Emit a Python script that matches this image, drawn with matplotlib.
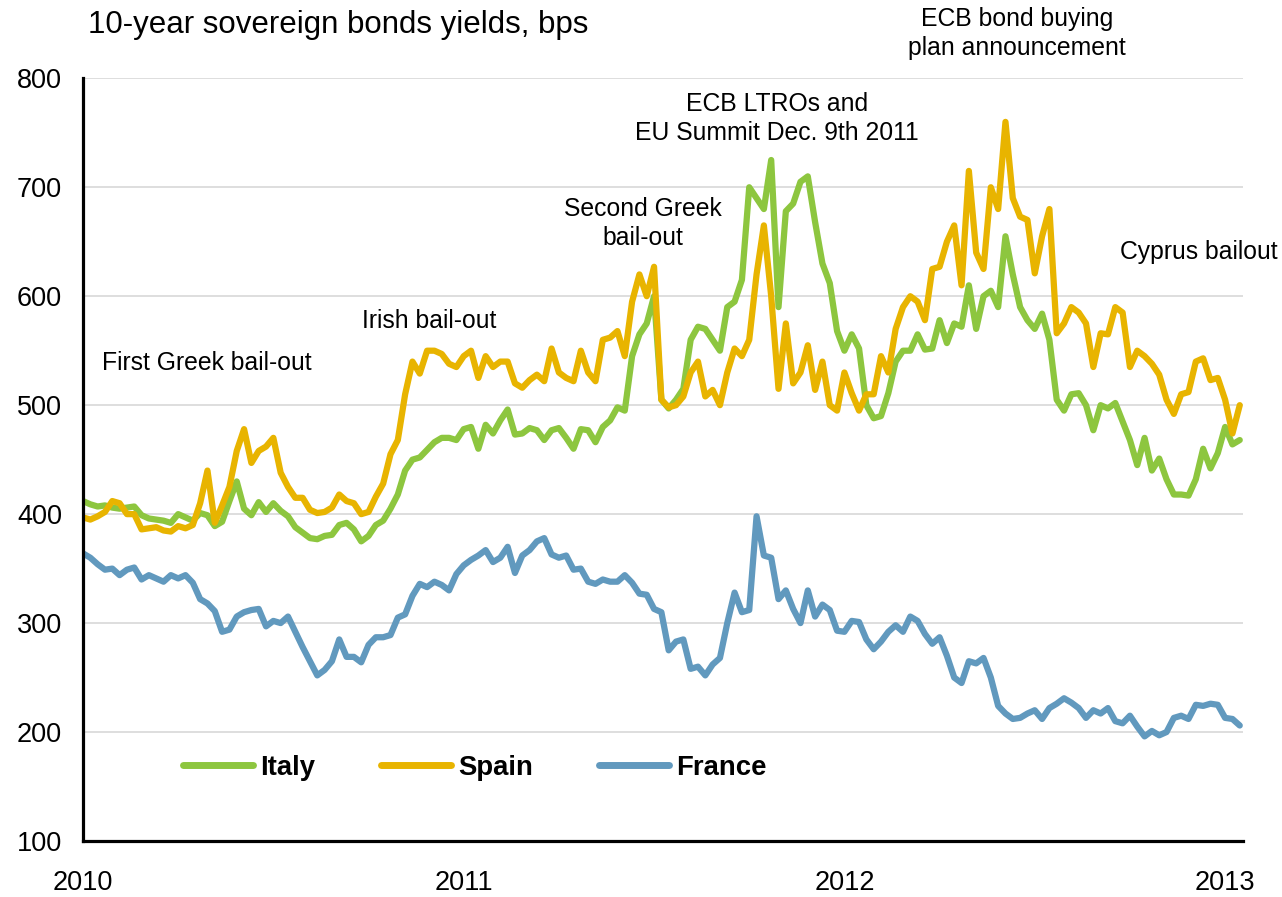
import numpy as np
import matplotlib
matplotlib.use("Agg")
import matplotlib.pyplot as plt

plt.rcParams['font.family'] = ['Liberation Sans', 'DejaVu Sans']

# weekly 10-year yields, bps, starting first week of 2010
italy = [412, 409, 407, 408, 406, 405, 406, 407, 399, 396,
         395, 394, 392, 400, 397, 394, 401, 399, 389, 393,
         412, 430, 405, 399, 411, 402, 410, 403, 398, 388,
         383, 378, 377, 380, 381, 390, 392, 386, 375, 380,
         390, 394, 405, 418, 440, 450, 452, 459, 466, 470,
         470, 468, 478, 480, 460, 482, 474, 486, 496, 473,
         474, 479, 477, 468, 477, 479, 470, 460, 478, 477,
         466, 480, 486, 498, 495, 545, 565, 575, 600, 505,
         497, 505, 515, 560, 572, 570, 560, 550, 590, 595,
         615, 700, 690, 680, 725, 590, 678, 685, 705, 710,
         668, 630, 612, 568, 550, 565, 552, 500, 488, 490,
         511, 540, 550, 550, 565, 551, 552, 578, 557, 575,
         572, 610, 570, 600, 605, 590, 655, 620, 590, 578,
         570, 584, 560, 505, 495, 510, 511, 500, 477, 500,
         497, 502, 485, 468, 445, 470, 440, 451, 432, 418,
         418, 417, 432, 460, 442, 456, 480, 464, 468]

spain = [397, 395, 398, 402, 412, 410, 400, 400, 386, 387,
         388, 385, 384, 389, 387, 390, 410, 440, 392, 408,
         425, 458, 478, 447, 458, 462, 470, 438, 425, 415,
         415, 404, 401, 402, 406, 418, 412, 410, 400, 402,
         416, 428, 455, 468, 510, 540, 529, 550, 550, 547,
         538, 535, 545, 550, 525, 545, 535, 540, 540, 520,
         516, 523, 528, 522, 552, 530, 525, 522, 550, 530,
         522, 560, 562, 568, 545, 595, 620, 600, 627, 505,
         498, 500, 508, 530, 540, 508, 514, 500, 530, 552,
         545, 560, 620, 665, 600, 515, 575, 520, 530, 555,
         514, 540, 500, 495, 530, 511, 495, 510, 510, 545,
         530, 570, 590, 600, 595, 578, 625, 627, 650, 665,
         610, 715, 640, 625, 700, 680, 760, 690, 673, 670,
         621, 655, 680, 566, 575, 590, 585, 575, 535, 566,
         565, 590, 585, 535, 550, 545, 538, 528, 505, 492,
         510, 512, 540, 543, 523, 525, 505, 474, 500]

france = [364, 360, 354, 349, 350, 344, 349, 351, 340, 344,
          341, 338, 344, 341, 344, 337, 322, 318, 311, 292,
          294, 306, 310, 312, 313, 297, 302, 300, 306, 292,
          278, 265, 252, 257, 265, 285, 269, 269, 264, 280,
          287, 287, 289, 305, 308, 325, 336, 333, 338, 335,
          330, 345, 353, 358, 362, 367, 356, 360, 370, 346,
          362, 367, 375, 378, 363, 360, 362, 349, 350, 338,
          336, 340, 338, 338, 344, 337, 327, 326, 313, 310,
          275, 283, 285, 258, 260, 252, 262, 268, 300, 328,
          310, 312, 398, 362, 360, 322, 330, 313, 300, 330,
          306, 317, 312, 293, 292, 302, 301, 285, 276, 283,
          292, 298, 292, 306, 302, 290, 281, 287, 270, 250,
          245, 265, 263, 268, 250, 224, 217, 212, 213, 217,
          220, 212, 222, 226, 231, 227, 222, 213, 220, 217,
          222, 210, 208, 215, 205, 196, 201, 197, 200, 213,
          215, 212, 225, 224, 226, 225, 213, 212, 206]

series = [("Italy", italy, "#8DC63F"),
          ("Spain", spain, "#E8B400"),
          ("France", france, "#6199BE")]

years = [2010, 2011, 2012, 2013]

# event labels: (text, year position, bps position)
events = [("First Greek bail-out", 2010.326, 539),
          ("Irish bail-out", 2010.909, 577),
          ("Second Greek\nbail-out", 2011.471, 667),
          ("ECB LTROs and\nEU Summit Dec. 9th 2011", 2011.823, 763),
          ("ECB bond buying\nplan announcement", 2012.453, 841),
          ("Cyprus bailout", 2012.931, 641)]

W, H = 1282, 897
fig = plt.figure(figsize=(W / 100, H / 100), dpi=100)
ax = fig.add_axes([83 / W, 1 - 841 / H, (1243 - 83) / W, (841 - 78.3) / H])

t = 2010 + np.arange(len(italy)) / 52.0
for name, vals, col in series:
    ax.plot(t, vals, color=col, lw=4.5, label=name,
            solid_joinstyle='round', solid_capstyle='round')

ax.set_xlim(2010, 2013.047)
ax.set_ylim(100, 800)
ax.set_yticks(range(100, 801, 100))
ax.set_xticks(years)
ax.set_xticklabels([str(y) for y in years])
ax.tick_params(axis='y', length=0, pad=15, labelsize=19.5)
ax.tick_params(axis='x', length=0, pad=21, labelsize=19.5)

ax.grid(axis='y', color='#D4D4D4', lw=1.1)
ax.set_axisbelow(True)
for s in ('top', 'right'):
    ax.spines[s].set_visible(False)
for s in ('left', 'bottom'):
    ax.spines[s].set_linewidth(2.3)
    ax.spines[s].set_color('black')

for txt, x, y in events:
    ax.text(x, y, txt, ha='center', va='center', fontsize=17.8,
            linespacing=1.25, clip_on=False)

fig.text(88 / W, 1 - 25 / H, "10-year sovereign bonds yields, bps",
         ha='left', va='center', fontsize=22.5)

leg = ax.legend(loc='center left', bbox_to_anchor=(183 / W, 1 - 768 / H),
                bbox_transform=fig.transFigure, ncol=3, frameon=False,
                borderpad=0, borderaxespad=0, handlelength=2.55,
                handletextpad=0.25, columnspacing=2.4,
                prop={'weight': 'bold', 'size': 19.8})
for h in leg.get_lines():
    h.set_linewidth(5)

fig.savefig("out.png", dpi=100)
